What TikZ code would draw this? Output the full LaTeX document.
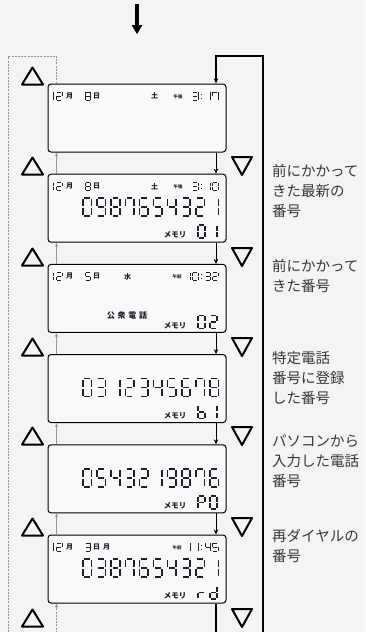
\documentclass[tikz,border=0pt]{standalone}
\usepackage{fontspec}
\newfontfamily\cjk{Noto Sans CJK JP}
\usetikzlibrary{arrows.meta}
\definecolor{bgc}{RGB}{244,244,244}
\definecolor{boxfill}{RGB}{249,249,249}
\definecolor{lcdink}{RGB}{30,30,45}
\definecolor{descc}{RGB}{55,55,55}
\definecolor{guidec}{RGB}{150,150,150}

% seven-segment pieces, unit cell 1 wide, 2 high, y downward
\def\sgA{\draw[seg] (0.16,0) -- (0.84,0);}
\def\sgB{\draw[seg] (1,0.12) -- (1,0.88);}
\def\sgC{\draw[seg] (1,1.12) -- (1,1.88);}
\def\sgD{\draw[seg] (0.16,2) -- (0.84,2);}
\def\sgE{\draw[seg] (0,1.12) -- (0,1.88);}
\def\sgF{\draw[seg] (0,0.12) -- (0,0.88);}
\def\sgG{\draw[seg] (0.16,1) -- (0.84,1);}
\expandafter\def\csname sgd0\endcsname{\sgA\sgB\sgC\sgD\sgE\sgF}
\expandafter\def\csname sgd1\endcsname{\sgB\sgC}
\expandafter\def\csname sgd2\endcsname{\sgA\sgB\sgG\sgE\sgD}
\expandafter\def\csname sgd3\endcsname{\sgA\sgB\sgG\sgC\sgD}
\expandafter\def\csname sgd4\endcsname{\sgF\sgG\sgB\sgC}
\expandafter\def\csname sgd5\endcsname{\sgA\sgF\sgG\sgC\sgD}
\expandafter\def\csname sgd6\endcsname{\sgA\sgF\sgG\sgE\sgC\sgD}
\expandafter\def\csname sgd7\endcsname{\sgA\sgB\sgC\sgF}
\expandafter\def\csname sgd8\endcsname{\sgA\sgB\sgC\sgD\sgE\sgF\sgG}
\expandafter\def\csname sgd9\endcsname{\sgA\sgB\sgC\sgD\sgF\sgG}
\expandafter\def\csname sgdb\endcsname{\sgF\sgE\sgD\sgC\sgG}
\expandafter\def\csname sgdP\endcsname{\sgA\sgB\sgF\sgG\sgE}
\expandafter\def\csname sgdr\endcsname{\sgE\sgG}
\expandafter\def\csname sgdd\endcsname{\sgB\sgC\sgD\sgE\sgG}

\newcommand\lcdrow[5]{%
  \foreach \ch [count=\k from 0] in {#5} {%
    \begin{scope}[shift={({#1+\k*#3},#2)},#4]\csname sgd\ch\endcsname\end{scope}}}
\newcommand\bigdigits[1]{\lcdrow{83}{-10}{14.1}{xscale=8.5,yscale=9,line width=1.6pt}{#1}}
\newcommand\memdigits[1]{\lcdrow{198}{17}{12}{xscale=7,yscale=6.5,line width=1.5pt}{#1}}
\newcommand\smalldigits[3]{\lcdrow{#1}{-26}{#2}{xscale=5.5,yscale=4,line width=0.85pt}{#3}}
\newcommand\lcdcolon{\fill[lcdink] (201,-24.2) rectangle ++(1.1,1.1);
  \fill[lcdink] (201,-20.5) rectangle ++(1.1,1.1);}

\begin{document}
\begin{tikzpicture}[x=1pt,y=-1pt,
  lcdbox/.style={draw=black, line width=1pt, rounded corners=3pt,
    minimum width=178pt, minimum height=68pt, inner sep=0pt, fill=boxfill},
  seg/.style={draw=lcdink, line cap=butt},
  tri/.style={draw=black, line width=2pt, line join=round},
  desc/.style={anchor=north west, inner sep=0pt, align=left, text=descc,
    font=\cjk\fontsize{14.5}{20}\selectfont},
  kan/.style={inner sep=0pt, text=lcdink, font=\cjk\bfseries\fontsize{7}{7}\selectfont},
  ampm/.style={inner sep=0pt, text=lcdink, font=\cjk\bfseries\fontsize{4.5}{4.5}\selectfont},
  meml/.style={inner sep=0pt, text=lcdink, font=\cjk\bfseries\fontsize{7.5}{7.5}\selectfont},
  flow/.style={draw=black, line width=1.1pt},
  flowarr/.style={draw=black, line width=0.9pt, -{Stealth[length=5pt,width=4.5pt]}},
  guide/.style={draw=guidec, line width=0.7pt, dash pattern=on 2pt off 1.2pt},
  guidearr/.style={draw=guidec, line width=0.6pt, -{Stealth[length=4pt,width=3pt]}},
  uptri/.pic={\draw[tri] (-10.5,8.5) -- (0,-8.5) -- (10.5,8.5) -- cycle;},
  downtri/.pic={\draw[tri] (-10,-9) -- (0,9) -- (10,-9) -- cycle;},
]
\fill[bgc] (0,0) rectangle (365,632);
\useasboundingbox (0,0) rectangle (365,632);

% frames
\node[lcdbox] (b1) at (137,118) {};
\node[lcdbox] (b2) at (137,208.2) {};
\node[lcdbox] (b3) at (137,298.4) {};
\node[lcdbox] (b4) at (137,388.6) {};
\node[lcdbox] (b5) at (137,478.8) {};
\node[lcdbox] (b6) at (137,569) {};

% top arrow
\coordinate (tA) at (137,4);
\coordinate (tH) at (137,25);
\coordinate (tB) at (137,34);
\draw[draw=black, line width=3.2pt] (tA) -- (tH);
\fill[black] (tB) -- ([xshift=-5.5pt]tH) -- ([xshift=5.5pt]tH) -- cycle;

% right (down) loop
\coordinate (rTop) at (263,56);
\coordinate (rBot) at (263,633);
\coordinate (iTop) at (216,56);
\coordinate (iBot) at (216,633);
\draw[flow, -{Stealth[length=5pt,width=4.5pt]}] (b6.south -| iBot) -- (iBot) -- (rBot) -- (rTop) -- (iTop) -- (b1.north -| iTop);
\foreach \p/\q in {b1/b2,b2/b3,b3/b4,b4/b5,b5/b6}
  \draw[flowarr] (\p.south -| iTop) -- (\q.north -| iTop);

% left (up) guide loop
\coordinate (gTL) at (8.5,56);
\coordinate (gTR) at (56.5,56);
\coordinate (gBL) at (8.5,633);
\coordinate (gBR) at (56.5,633);
\draw[guide] (b1.north -| gTR) -- (gTR) -- (gTL) -- (gBL) -- (gBR) -- (b6.south -| gBR);
\draw[guidearr] ([yshift=-6pt]b6.south -| gBR) -- (b6.south -| gBR);
\foreach \p/\q in {b2/b1,b3/b2,b4/b3,b5/b4,b6/b5}
  \draw[guidearr] (\p.north -| gTR) -- (\q.south -| gTR);

% triangles
\foreach \y in {76,166,257,347,436,527,618} \pic at (32.5,\y) {uptri};
\foreach \y in {166,257,347,436,527,618} \pic at (242,\y) {downtri};

% descriptions
\node[desc] (d1) at (272,164.5) {前にかかって\\きた最新の\\番号};
\node[desc] (d2) at (272,259.5) {前にかかって\\きた番号};
\node[desc] (d3) at (272,351) {特定電話\\番号に登録\\した番号};
\node[desc] (d4) at (272,434.5) {パソコンから\\入力した電話\\番号};
\node[desc] (d5) at (272,529.5) {再ダイヤルの\\番号};

% display 1
\begin{scope}[shift={(0,118)}]
  \smalldigits{48}{8.5}{1,2}
  \node[kan] (k1m) at (69.5,-22) {月};
  \smalldigits{85}{7}{8}
  \node[kan] (k1d) at (96.5,-22) {日};
  \node[kan] (k1w) at (154.5,-22) {土};
  \node[ampm] (k1a) at (178,-21.5) {午後};
  \smalldigits{192.5}{7.5}{3}
  \lcdcolon
  \smalldigits{205}{7.5}{1,7}
\end{scope}

% display 2
\begin{scope}[shift={(0,208.2)}]
  \smalldigits{48}{8.5}{1,2}
  \node[kan] (k2m) at (69.5,-22) {月};
  \smalldigits{85}{7}{8}
  \node[kan] (k2d) at (96.5,-22) {日};
  \node[kan] (k2w) at (154.5,-22) {土};
  \node[ampm] (k2a) at (178,-21.5) {午後};
  \smalldigits{192.5}{7.5}{3}
  \lcdcolon
  \smalldigits{205}{7.5}{1,0}
  \bigdigits{0,9,8,7,6,5,4,3,2,1}
  \node[meml] (m2) at (175,27) {メモリ};
  \memdigits{0,1}
\end{scope}

% display 3
\begin{scope}[shift={(0,298.4)}]
  \smalldigits{48}{8.5}{1,2}
  \node[kan] (k3m) at (69.5,-22) {月};
  \smalldigits{85}{7}{5}
  \node[kan] (k3d) at (96.5,-22) {日};
  \node[kan] (k3w) at (127.5,-22) {水};
  \node[ampm] (k3a) at (177,-21.5) {午前};
  \smalldigits{185}{7.5}{1,0}
  \lcdcolon
  \smalldigits{205}{7.5}{3,2}
  \node[kan, font=\cjk\bfseries\fontsize{8}{8}\selectfont] (k3p) at (127,16.6)
    {公\hspace{2.7pt}衆\hspace{2.7pt}電\hspace{2.7pt}話};
  \node[meml] (m3) at (175,27) {メモリ};
  \memdigits{0,2}
\end{scope}

% display 4
\begin{scope}[shift={(0,388.6)}]
  \bigdigits{0,3,1,2,3,4,5,6,7,8}
  \node[meml] (m4) at (175,27) {メモリ};
  \memdigits{b,1}
\end{scope}

% display 5
\begin{scope}[shift={(0,478.8)}]
  \bigdigits{0,5,4,3,2,1,9,8,7,6}
  \node[meml] (m5) at (175,27) {メモリ};
  \memdigits{P,0}
\end{scope}

% display 6
\begin{scope}[shift={(0,569)}]
  \smalldigits{48}{8.5}{1,2}
  \node[kan] (k6m) at (69.5,-22) {月};
  \smalldigits{85}{7}{3}
  \node[kan] (k6d) at (96.5,-22) {日};
  \node[kan] (k6w) at (106.5,-22) {月};
  \node[ampm] (k6a) at (177,-21.5) {午前};
  \smalldigits{185}{7.5}{1,1}
  \lcdcolon
  \smalldigits{205}{7.5}{4,5}
  \bigdigits{0,3,8,7,6,5,4,3,2,1}
  \node[meml] (m6) at (175,27) {メモリ};
  \memdigits{r,d}
\end{scope}
\end{tikzpicture}
\end{document}
